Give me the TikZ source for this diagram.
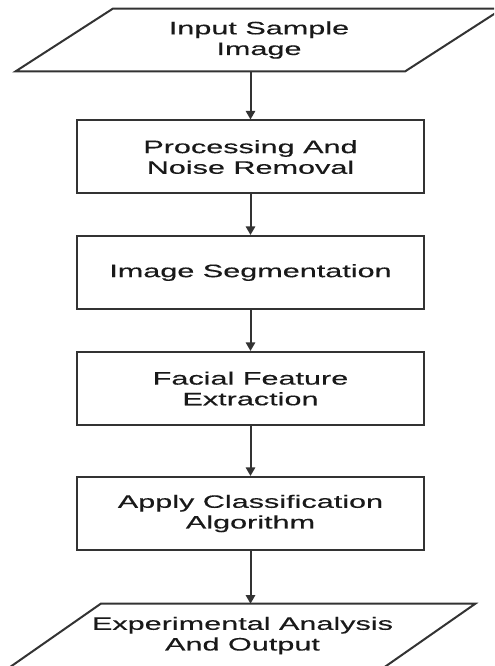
\documentclass[tikz,border=0pt]{standalone}
\usepackage{fontspec}
\setmainfont[FakeStretch=1.7,FakeBold=0.3]{Liberation Sans}
\usetikzlibrary{calc,arrows.meta}
\begin{document}
\begin{tikzpicture}[x=0.75pt,y=-0.75pt,
  line/.style={draw=black!80,line width=1.5pt},
  txt/.style={align=center,font=\fontsize{13.5}{15.5}\selectfont,text=black!90},
  stepbox/.style={line,txt,rectangle,minimum width=260.25pt,minimum height=54.75pt,inner sep=0pt},
  io/.style={txt,rectangle,inner sep=0pt},
  arr/.style={line,-{Triangle[length=6.5pt,width=7pt]}}]
\useasboundingbox (0,0) rectangle (494,666);
\clip (0,0) rectangle (494,666);
\fill[white] (0,0) rectangle (494,666);

% input parallelogram: top edge 113..502 at y=9, bottom edge 16..405 at y=71
\node[io,minimum width=364.5pt,minimum height=46.5pt] (in) at (259,40) {Input Sample\\Image};
\draw[line,line join=miter] ($(in.north west)+(97,0)$) -- (in.north east) -- ($(in.south east)+(-97,0)$) -- (in.south west) -- cycle;

\node[stepbox] (b1) at (250.5,157) {Processing And\\Noise Removal};
\node[stepbox] (b2) at (250.5,272.5) {Image Segmentation};
\node[stepbox] (b3) at (250.5,388.5) {Facial Feature\\Extraction};
\node[stepbox] (b4) at (250.5,513.5) {Apply Classification\\Algorithm};

% output parallelogram: top edge 101..475 at y=604, bottom edge 10..384 at y=667
\node[io,minimum width=348.75pt,minimum height=47.25pt] (out) at (242.5,635.5) {Experimental Analysis\\And Output};
\draw[line,line join=miter] ($(out.north west)+(91,0)$) -- (out.north east) -- ($(out.south east)+(-91,0)$) -- (out.south west) -- cycle;

\draw[arr] (in.south -| b1.north) -- (b1.north);
\draw[arr] (b1) -- (b2);
\draw[arr] (b2) -- (b3);
\draw[arr] (b3) -- (b4);
\draw[arr] (b4.south) -- (out.north -| b4.south);
\end{tikzpicture}
\end{document}
